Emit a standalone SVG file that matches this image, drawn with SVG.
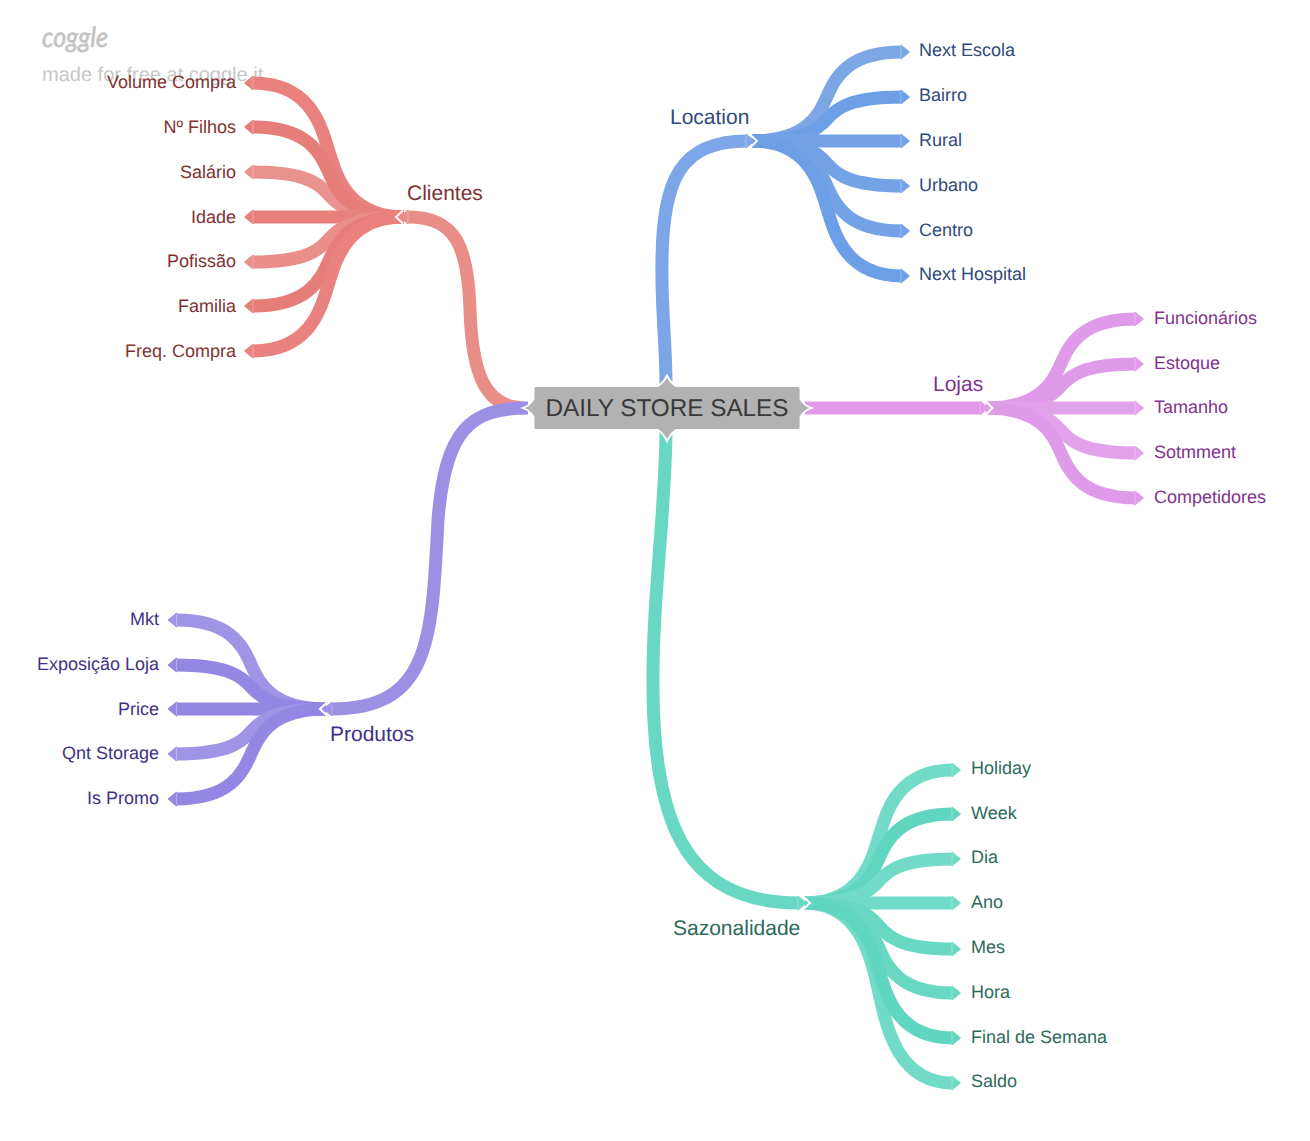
<svg xmlns="http://www.w3.org/2000/svg" xmlns:xlink="http://www.w3.org/1999/xlink" width="1310" height="1141" viewBox="0 0 1310 1141">
<style>
text{font-family:"Liberation Sans",Arial,sans-serif;font-size:18px;text-rendering:geometricPrecision}
.mid{font-size:21px}
.e{text-anchor:end}
.tr{fill:#803232}.tb{fill:#304a7c}.tp{fill:#83338e}.tg{fill:#2d6a5c}.tv{fill:#403285}
path.ln{fill:none;stroke-width:13}
use{stroke:none}
.r0{stroke:#e98d87;fill:#e98d87}.r1{stroke:#e9827e;fill:#e9827e}.r2{stroke:#e57e79;fill:#e57e79}.r3{stroke:#e9918c;fill:#e9918c}.r4{stroke:#e8817c;fill:#e8817c}.r5{stroke:#e98e89;fill:#e98e89}
.b0{stroke:#7ca6e8;fill:#7ca6e8}.b1{stroke:#7da7e4;fill:#7da7e4}.b2{stroke:#6d9fe6;fill:#6d9fe6}.b3{stroke:#74a2e7;fill:#74a2e7}
.p0{stroke:#e19aea;fill:#e19aea}.p1{stroke:#e09aea;fill:#e09aea}.p2{stroke:#e2a2ea;fill:#e2a2ea}
.g0{stroke:#68d8c3;fill:#68d8c3}.g1{stroke:#72dbc7;fill:#72dbc7}.g2{stroke:#60d5bf;fill:#60d5bf}
.v0{stroke:#9c90e5;fill:#9c90e5}.v1{stroke:#9f94e6;fill:#9f94e6}.v2{stroke:#9387e3;fill:#9387e3}
.chev{fill:none;stroke:#fff;stroke-width:2}
.seam{stroke:#fff;stroke-opacity:.3;stroke-width:1;fill:none}
</style>
<defs>
<g id="tipL"><path d="M0 -7L-8.500 0L0 7Z"/><path class="seam" d="M0 -6V6"/></g>
<g id="tipR"><path d="M0 -7L8.500 0L0 7Z"/><path class="seam" d="M0 -6V6"/></g>
</defs>
<g id="watermark">
<text x="42" y="47" font-style="italic" textLength="66" lengthAdjust="spacingAndGlyphs" style="font-family:'Lato','Liberation Sans',sans-serif;font-size:28px;fill:#c4c4c4;stroke:#c4c4c4;stroke-width:.7">coggle</text>
<text x="42" y="81" style="font-size:20px;fill:#c8c8c8">made for free at coggle.it</text>
</g>
<g id="connectors">
<!-- Clientes leaves -->
<path class="ln r3" d="M404 217c-57.400 0 -68 -14.400 -75.500 -22.500s-18.100 -22.500 -75.500 -22.500"/><use class="r3" href="#tipL" x="253" y="172"/>
<path class="ln r1" d="M404 217c-57.400 0 -68 -42.900 -75.500 -67s-18.100 -67 -75.500 -67"/><use class="r1" href="#tipL" x="253" y="83"/>
<path class="ln r2" d="M404 217c-57.400 0 -68 -28.800 -75.500 -45s-18.100 -45 -75.500 -45"/><use class="r2" href="#tipL" x="253" y="127"/>
<path class="ln r4" d="M404 217H253"/><use class="r4" href="#tipL" x="253" y="217"/>
<path class="ln r5" d="M404 217c-57.400 0 -68 14.400 -75.500 22.500s-18.100 22.500 -75.500 22.500"/><use class="r5" href="#tipL" x="253" y="262"/>
<path class="ln r2" d="M404 217c-57.400 0 -68 28.500 -75.500 44.500s-18.100 44.500 -75.500 44.500"/><use class="r2" href="#tipL" x="253" y="306"/>
<path class="ln r1" d="M404 217c-57.400 0 -68 42.900 -75.500 67s-18.100 67 -75.500 67"/><use class="r1" href="#tipL" x="253" y="351"/>
<!-- Location leaves -->
<path class="ln b1" d="M752 141c57 0 67.500 -28.500 75 -44.500s18 -44.500 75 -44.500"/><use class="b1" href="#tipR" x="901" y="52"/>
<path class="ln b2" d="M752 141c57 0 67.500 -14.100 75 -22s18 -22 75 -22"/><use class="b2" href="#tipR" x="901" y="97"/>
<path class="ln b3" d="M752 141H902"/><use class="b3" href="#tipR" x="901" y="141"/>
<path class="ln b3" d="M752 141c57 0 67.500 14.400 75 22.500s18 22.500 75 22.500"/><use class="b3" href="#tipR" x="901" y="186"/>
<path class="ln b3" d="M752 141c57 0 67.500 28.800 75 45s18 45 75 45"/><use class="b3" href="#tipR" x="901" y="231"/>
<path class="ln b2" d="M752 141c57 0 67.500 43.200 75 67.500s18 67.500 75 67.500"/><use class="b2" href="#tipR" x="901" y="276"/>
<!-- Lojas leaves -->
<path class="ln p1" d="M986 408c57 0 67.500 -28.500 75 -44.500s18 -44.500 75 -44.500"/><use class="p1" href="#tipR" x="1135" y="319"/>
<path class="ln p1" d="M986 408c57 0 67.500 -14.100 75 -22s18 -22 75 -22"/><use class="p1" href="#tipR" x="1135" y="364"/>
<path class="ln p2" d="M986 408H1136"/><use class="p2" href="#tipR" x="1135" y="408"/>
<path class="ln p2" d="M986 408c57 0 67.500 14.400 75 22.500s18 22.500 75 22.500"/><use class="p2" href="#tipR" x="1135" y="453"/>
<path class="ln p1" d="M986 408c57 0 67.500 28.800 75 45s18 45 75 45"/><use class="p1" href="#tipR" x="1135" y="498"/>
<!-- Sazonalidade leaves -->
<path class="ln g1" d="M805 903c56.200 0 66.600 -42.600 74 -66.500s17.800 -66.500 74 -66.500"/><use class="g1" href="#tipR" x="952" y="770"/>
<path class="ln g2" d="M805 903c56.200 0 66.600 -28.500 74 -44.500s17.800 -44.500 74 -44.500"/><use class="g2" href="#tipR" x="952" y="814"/>
<path class="ln g1" d="M805 903c56.200 0 66.600 -14.100 74 -22s17.800 -22 74 -22"/><use class="g1" href="#tipR" x="952" y="859"/>
<path class="ln g1" d="M805 903H953"/><use class="g1" href="#tipR" x="952" y="903"/>
<path class="ln g0" d="M805 903c56.200 0 66.600 14.700 74 23s17.800 23 74 23"/><use class="g0" href="#tipR" x="952" y="949"/>
<path class="ln g0" d="M805 903c56.200 0 66.600 28.800 74 45s17.800 45 74 45"/><use class="g0" href="#tipR" x="952" y="993"/>
<path class="ln g1" d="M805 903c56.200 0 66.600 57.600 74 90s17.800 90 74 90"/><use class="g1" href="#tipR" x="952" y="1083"/>
<path class="ln g2" d="M805 903c56.200 0 66.600 43.200 74 67.500s17.800 67.500 74 67.500"/><use class="g2" href="#tipR" x="952" y="1038"/>
<!-- Produtos leaves -->
<path class="ln v1" d="M326 709c-57 0 -67.500 -28.500 -75 -44.500s-18 -44.500 -75 -44.500"/><use class="v1" href="#tipL" x="176.500" y="620"/>
<path class="ln v2" d="M326 709c-57 0 -67.500 -14.100 -75 -22s-18 -22 -75 -22"/><use class="v2" href="#tipL" x="176.500" y="665"/>
<path class="ln v2" d="M326 709H176"/><use class="v2" href="#tipL" x="176.500" y="709"/>
<path class="ln v1" d="M326 709c-57 0 -67.500 14.400 -75 22.500s-18 22.500 -75 22.500"/><use class="v1" href="#tipL" x="176.500" y="754"/>
<path class="ln v2" d="M326 709c-57 0 -67.500 28.800 -75 45s-18 45 -75 45"/><use class="v2" href="#tipL" x="176.500" y="799"/>
<!-- white chevrons at hubs -->
<polyline class="chev" points="403,210.500 396,217 403,223.500"/>
<polyline class="chev" points="750,134.500 757,141 750,147.500"/>
<polyline class="chev" points="986,401.500 992.500,408 986,414.500"/>
<polyline class="chev" points="803,896.500 810,903 803,909.500"/>
<polyline class="chev" points="327,702.500 320,709 327,715.500"/>
<!-- main branches -->
<path class="ln r0" d="M525 408C484 408 472 372 470 310C468 245 455 217 408 217"/><use class="r0" href="#tipL" x="408" y="217"/>
<path class="ln v0" d="M528 408C470 408 445 430 438 520C432 640 430 709 332 709"/><use class="v0" href="#tipL" x="332" y="709"/>
<path class="ln b0" d="M666 385C666 340 661 310 662 260C663 180 680 141 747 141"/><use class="b0" href="#tipR" x="746" y="141"/>
<path class="ln g0" d="M666 432C665 520 652 600 653 690C654 830 690 903 799 903"/><use class="g0" href="#tipR" x="798" y="903"/>
<path class="ln p0" d="M805 408H981"/><use class="p0" href="#tipR" x="980" y="408"/>
</g>
<g id="root">
<path d="M536 386H658Q664 382 667 375.500Q670 382 676 386H798Q800.500 386 800.500 388.500V399Q803 405 811.500 408Q803 411 800.500 417V427.500Q800.500 430 798 430H676Q670 434 667 441.500Q664 434 658 430H536Q533.500 430 533.500 427.500V417Q531 411 522.500 408Q531 405 533.500 399V388.500Q533.500 386 536 386Z" fill="#b2b2b2" stroke="#fff" stroke-width="1.800"/>
<text x="667" y="416" text-anchor="middle" style="font-size:24.300px;fill:#393939">DAILY STORE SALES</text>
</g>
<g id="clientes"><text class="mid tr" x="407" y="200">Clientes</text></g>
<g id="volume-compra"><text class="tr e" x="236" y="88">Volume Compra</text></g>
<g id="n-filhos"><text class="tr e" x="236" y="133">Nº Filhos</text></g>
<g id="salario"><text class="tr e" x="236" y="178">Salário</text></g>
<g id="idade"><text class="tr e" x="236" y="223">Idade</text></g>
<g id="pofissao"><text class="tr e" x="236" y="267">Pofissão</text></g>
<g id="familia"><text class="tr e" x="236" y="312">Familia</text></g>
<g id="freq-compra"><text class="tr e" x="236" y="357">Freq. Compra</text></g>
<g id="location"><text class="mid tb" x="670" y="124">Location</text></g>
<g id="next-escola"><text class="tb" x="919" y="56">Next Escola</text></g>
<g id="bairro"><text class="tb" x="919" y="101">Bairro</text></g>
<g id="rural"><text class="tb" x="919" y="146">Rural</text></g>
<g id="urbano"><text class="tb" x="919" y="191">Urbano</text></g>
<g id="centro"><text class="tb" x="919" y="236">Centro</text></g>
<g id="next-hospital"><text class="tb" x="919" y="280">Next Hospital</text></g>
<g id="lojas"><text class="mid tp" x="933" y="391">Lojas</text></g>
<g id="funcionarios"><text class="tp" x="1154" y="324">Funcionários</text></g>
<g id="estoque"><text class="tp" x="1154" y="369">Estoque</text></g>
<g id="tamanho"><text class="tp" x="1154" y="413">Tamanho</text></g>
<g id="sotmment"><text class="tp" x="1154" y="458">Sotmment</text></g>
<g id="competidores"><text class="tp" x="1154" y="503">Competidores</text></g>
<g id="produtos"><text class="mid tv" x="330" y="741">Produtos</text></g>
<g id="mkt"><text class="tv e" x="159" y="625">Mkt</text></g>
<g id="exposicao-loja"><text class="tv e" x="159" y="670">Exposição Loja</text></g>
<g id="price"><text class="tv e" x="159" y="715">Price</text></g>
<g id="qnt-storage"><text class="tv e" x="159" y="759">Qnt Storage</text></g>
<g id="is-promo"><text class="tv e" x="159" y="804">Is Promo</text></g>
<g id="sazonalidade"><text class="mid tg" x="673" y="935">Sazonalidade</text></g>
<g id="holiday"><text class="tg" x="971" y="774">Holiday</text></g>
<g id="week"><text class="tg" x="971" y="819">Week</text></g>
<g id="dia"><text class="tg" x="971" y="863">Dia</text></g>
<g id="ano"><text class="tg" x="971" y="908">Ano</text></g>
<g id="mes"><text class="tg" x="971" y="953">Mes</text></g>
<g id="hora"><text class="tg" x="971" y="998">Hora</text></g>
<g id="final-de-semana"><text class="tg" x="971" y="1043">Final de Semana</text></g>
<g id="saldo"><text class="tg" x="971" y="1087">Saldo</text></g>
</svg>
